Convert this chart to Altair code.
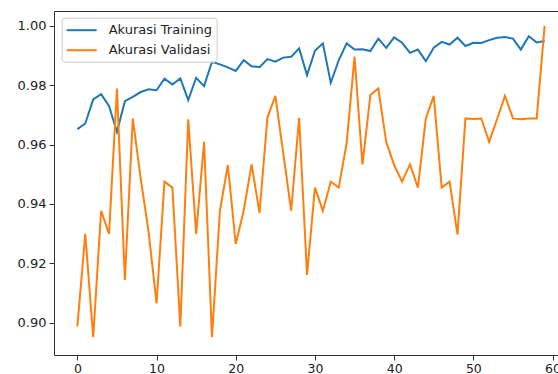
import altair as alt
import pandas as pd

epochs = list(range(60))
train = [0.9652, 0.9671, 0.9752, 0.9770, 0.9730, 0.9643, 0.9746, 0.9761, 0.9777, 0.9786,
         0.9783, 0.9822, 0.9802, 0.9823, 0.9750, 0.9825, 0.9797, 0.9879, 0.9870, 0.9860,
         0.9848, 0.9884, 0.9864, 0.9861, 0.9888, 0.9879, 0.9893, 0.9896, 0.9924, 0.9834,
         0.9916, 0.9941, 0.9808, 0.9884, 0.9941, 0.9920, 0.9921, 0.9915, 0.9957, 0.9926,
         0.9961, 0.9943, 0.9909, 0.9920, 0.9881, 0.9926, 0.9946, 0.9937, 0.9960, 0.9932,
         0.9943, 0.9942, 0.9952, 0.9960, 0.9962, 0.9957, 0.9920, 0.9965, 0.9944, 0.9949]
val = [0.8987, 0.9299, 0.8951, 0.9377, 0.9299, 0.9789, 0.9144, 0.9688, 0.9485, 0.9305,
       0.9065, 0.9475, 0.9455, 0.8987, 0.9685, 0.9299, 0.9609, 0.8951, 0.9377, 0.9531,
       0.9265, 0.9377, 0.9533, 0.9370, 0.9691, 0.9764, 0.9570, 0.9377, 0.9690, 0.9161,
       0.9455, 0.9377, 0.9475, 0.9455, 0.9604, 0.9896, 0.9533, 0.9767, 0.9789, 0.9609,
       0.9531, 0.9475, 0.9533, 0.9455, 0.9688, 0.9764, 0.9455, 0.9475, 0.9297, 0.9688,
       0.9686, 0.9688, 0.9609, 0.9686, 0.9764, 0.9688, 0.9685, 0.9688, 0.9688, 1.0000]
series_names = ["Akurasi Training", "Akurasi Validasi"]
colors = ["#1f77b4", "#ff7f0e"]
x_ticks = [0, 10, 20, 30, 40, 50, 60]
y_ticks = [0.90, 0.92, 0.94, 0.96, 0.98, 1.00]

df = pd.DataFrame({
    "epoch": epochs + epochs,
    "acc": train + val,
    "series": [series_names[0]] * len(train) + [series_names[1]] * len(val),
})

x_scale = alt.Scale(domain=[-2.95, 60.69], nice=False, zero=False)
y_scale = alt.Scale(domain=[0.8891, 1.0050], nice=False, zero=False)

lines = alt.Chart(df).mark_line(strokeWidth=2, clip=True).encode(
    x=alt.X("epoch:Q", scale=x_scale,
            axis=alt.Axis(values=x_ticks, title=None, grid=False, orient="bottom",
                          labelPadding=2)),
    y=alt.Y("acc:Q", scale=y_scale,
            axis=alt.Axis(values=y_ticks, format=".2f", title=None, grid=False,
                          labelFontSize=13)),
    color=alt.Color("series:N",
                    scale=alt.Scale(domain=series_names, range=colors),
                    legend=alt.Legend(
                        title=None, orient="none", legendX=7.7, legendY=6.7,
                        strokeColor="#cccccc", fillColor="rgba(255,255,255,0.8)",
                        cornerRadius=3, padding=4,
                        symbolType="M-1,0L3,0", symbolSize=225, symbolStrokeWidth=2,
                        labelFont="DejaVu Sans", labelFontSize=13, labelColor="#222222",
                        labelOffset=26, rowPadding=4)),
)

top_frame = alt.Chart(df).mark_line(opacity=0).encode(
    x=alt.X("epoch:Q", scale=x_scale,
            axis=alt.Axis(orient="top", labels=False, ticks=False, title=None, grid=False)),
    y=alt.Y("acc:Q", scale=y_scale),
)

chart = alt.layer(lines, top_frame).resolve_axis(x="independent").properties(
    width=504, height=344,
    autosize=alt.AutoSizeParams(type="none"),
    padding={"left": 54, "top": 11, "right": 0, "bottom": 19},
).configure_view(stroke=None).configure_axis(
    domainColor="#333333", tickColor="#333333", tickSize=5, domainWidth=1,
    labelFont="DejaVu Sans", labelFontSize=12.5, labelColor="#222222", labelPadding=3,
)

chart.save("out.html", embed_options={"renderer": "svg", "actions": False})
